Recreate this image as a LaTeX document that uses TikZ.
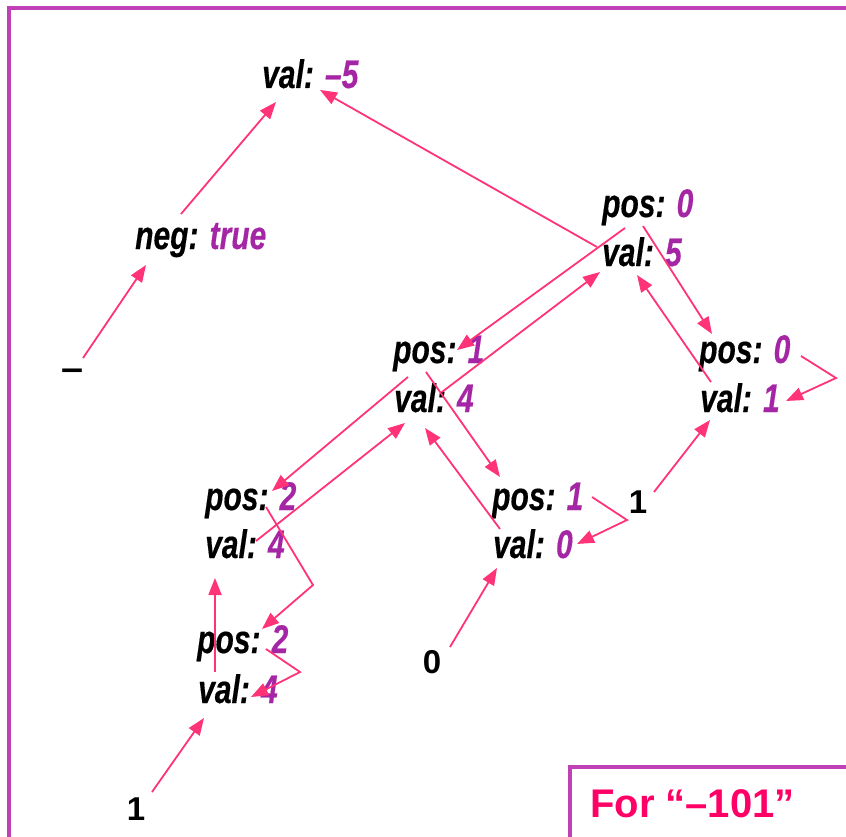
\documentclass[tikz,border=0pt]{standalone}
\usepackage{fontspec}
\usepackage{graphicx}
\setmainfont{Liberation Sans}[BoldItalicFeatures={FakeBold=0.4}]
\usetikzlibrary{arrows.meta}
\definecolor{framemag}{RGB}{192,64,184}
\definecolor{valpurple}{RGB}{165,38,165}
\definecolor{linkpink}{RGB}{255,51,119}
\definecolor{notepink}{RGB}{255,0,102}
\newcommand{\field}[2]{\scalebox{1}[1.33]{#1: \textcolor{valpurple}{#2}}}

\begin{document}
\begin{tikzpicture}[x=1pt, y=-1pt,
  field/.style={anchor=base west, inner sep=0pt, font=\fontsize{30}{36}\selectfont\bfseries\itshape},
  digit/.style={inner sep=0pt, font=\fontsize{33}{40}\selectfont\bfseries},
  link/.style={linkpink, line width=1.8pt, -{Triangle[length=17pt,width=13pt]}},
  panel/.style={framemag, line width=3.8pt}]
\useasboundingbox (0,0) rectangle (846,837);
% Frame and note box
\draw[panel] (9,837) -- (9,8) -- (846,8);
\draw[panel] (570,837) -- (570,767) -- (846,767);
\node[anchor=base west, inner sep=0pt, notepink, font=\fontsize{40}{48}\selectfont\bfseries] (note) at (590,817) {For “–101”};
% Result and sign
\node[field] (res) at (262,88) {\field{val}{–5}};
\node[field] (neg) at (135,249) {\field{neg}{true}};
\node[digit] (minus) at (73,375) {\scalebox{1.2}[1.1]{–}};
% Digit nodes
\node[field] (p0) at (602,217) {\field{pos}{0}};
\node[field] (v5) at (602,266) {\field{val}{5}};
\node[field] (p1) at (393,363) {\field{pos}{1}};
\node[field] (v4a) at (394,412) {\field{val}{4}};
\node[field] (p0r) at (699,363) {\field{pos}{0}};
\node[field] (v1) at (700,412) {\field{val}{1}};
\node[field] (p2) at (205,510) {\field{pos}{2}};
\node[field] (v4b) at (205,558) {\field{val}{4}};
\node[field] (p1m) at (492,510) {\field{pos}{1}};
\node[field] (v0) at (493,558) {\field{val}{0}};
\node[field] (p2l) at (197,653) {\field{pos}{2}};
\node[field] (v4c) at (198,703) {\field{val}{4}};
% Input digits
\node[digit] (zero) at (432,662) {0};
\node[digit] (onem) at (638,502) {1};
\node[digit] (one) at (136,809) {1};
% Sign and result
\draw[link] ([shift={(10,-17)}]minus.center) -- ([shift={(11,16)}]neg.base west);
\draw[link] ([shift={(46,-35)}]neg.base west) -- ([shift={(14,14)}]res.base west);
\draw[link] ([shift={(-5,-19)}]v5.base west) -- ([shift={(58,2)}]res.base west);
% Going down
\draw[link] ([shift={(23,11)}]p0.base west) -- ([shift={(64,-13)}]p1.base west);
\draw[link] ([shift={(41,9)}]p0.base west) -- ([shift={(13,-29)}]p0r.base west);
\draw[link] ([shift={(15,14)}]p1.base west) -- ([shift={(67,-19)}]p2.base west);
\draw[link] ([shift={(33,9)}]p1.base west) -- ([shift={(8,-33)}]p1m.base west);
\draw[link] ([shift={(61,-3)}]p2.base west) -- ++(47,78) -- ([shift={(65,-24)}]p2l.base west);
% Leaves
\draw[link] ([shift={(102,-7)}]p0r.base west) -- ++(35,22) -- ([shift={(86,-11)}]v1.base west);
\draw[link] ([shift={(100,-13)}]p1m.base west) -- ++(35,23) -- ([shift={(84,-14)}]v0.base west);
\draw[link] ([shift={(69,-4)}]p2l.base west) -- ++(34,23) -- ([shift={(53,-6)}]v4c.base west);
\draw[link] ([shift={(16,-10)}]onem.center) -- ([shift={(10,8)}]v1.base west);
\draw[link] ([shift={(18,-15)}]zero.center) -- ([shift={(4,10)}]v0.base west);
\draw[link] ([shift={(16,-17)}]one.center) -- ([shift={(6,15)}]v4c.base west);
% Going up
\draw[link] ([shift={(17,-31)}]v4c.base west) -- ([shift={(10,20)}]v4b.base west);
\draw[link] ([shift={(51,-17)}]v4b.base west) -- ([shift={(11,11)}]v4a.base west);
\draw[link] ([shift={(7,-29)}]v0.base west) -- ([shift={(31,16)}]v4a.base west);
\draw[link] ([shift={(48,-20)}]v4a.base west) -- ([shift={(-2,6)}]v5.base west);
\draw[link] ([shift={(11,-30)}]v1.base west) -- ([shift={(35,9)}]v5.base west);
\end{tikzpicture}
\end{document}
